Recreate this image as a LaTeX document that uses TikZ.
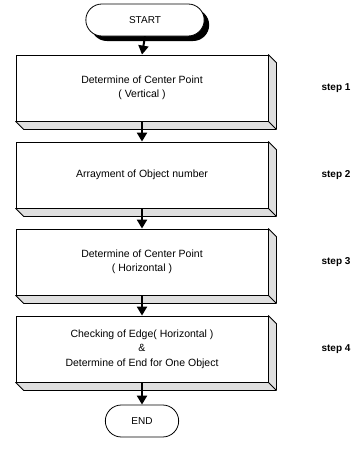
\documentclass[tikz,border=0pt]{standalone}
\usepackage{fontspec}
\setmainfont{Liberation Sans}
\usetikzlibrary{calc,shapes.misc,shadows,arrows.meta}
\tikzstyle{connector} = [line width=2pt,-{Triangle[width=10pt,length=9pt]}]
\tikzstyle{terminal} = [rounded rectangle, draw, line width=0.8pt, fill=white, minimum height=32pt, font=\fontsize{10}{12}\selectfont]
\tikzstyle{stepbox} = [rectangle, draw, line width=0.8pt, fill=white, minimum width=252pt, minimum height=66pt, align=center, font=\fontsize{10.5}{14.5}\selectfont]
\tikzstyle{bevel} = [draw, line width=0.8pt, fill=gray!25, line join=round]
\tikzstyle{steplabel} = [font=\bfseries\fontsize{10}{12}\selectfont]

\begin{document}
\begin{tikzpicture}[x=1pt,y=1pt,node distance=87pt]
        \useasboundingbox (0,0) rectangle (361,-455);
        \node (start) [terminal, minimum width=125pt, drop shadow={shadow xshift=5pt,shadow yshift=-5pt,opacity=1,fill=black}] at (145,-20) {START};
        \node (step-1) [stepbox, below of=start, xshift=-3pt, yshift=19pt] {Determine of Center Point\\( Vertical )};
        \node (step-2) [stepbox, below of=step-1] {Arrayment of Object number};
        \node (step-3) [stepbox, below of=step-2] {Determine of Center Point\\( Horizontal )};
        \node (step-4) [stepbox, below of=step-3] {Checking of Edge( Horizontal )\\\&\\Determine of End for One Object};
        \node (end) [terminal, minimum width=80pt, below of=step-4, yshift=15pt] {END};
        \node (label-1) [steplabel, right of=step-1, xshift=107pt] {step 1};
        \node (label-2) [steplabel, right of=step-2, xshift=107pt] {step 2};
        \node (label-3) [steplabel, right of=step-3, xshift=107pt] {step 3};
        \node (label-4) [steplabel, right of=step-4, xshift=107pt] {step 4};
        \draw [bevel] (step-1.south west) -- (step-1.south east) -- (step-1.north east) -- ++(8,-8) -- ($(step-1.south east)+(8,-8)$) -- ($(step-1.south west)+(8,-8)$) -- cycle (step-1.south east) -- ++(8,-8);
        \draw [bevel] (step-2.south west) -- (step-2.south east) -- (step-2.north east) -- ++(8,-8) -- ($(step-2.south east)+(8,-8)$) -- ($(step-2.south west)+(8,-8)$) -- cycle (step-2.south east) -- ++(8,-8);
        \draw [bevel] (step-3.south west) -- (step-3.south east) -- (step-3.north east) -- ++(8,-8) -- ($(step-3.south east)+(8,-8)$) -- ($(step-3.south west)+(8,-8)$) -- cycle (step-3.south east) -- ++(8,-8);
        \draw [bevel] (step-4.south west) -- (step-4.south east) -- (step-4.north east) -- ++(8,-8) -- ($(step-4.south east)+(8,-8)$) -- ($(step-4.south west)+(8,-8)$) -- cycle (step-4.south east) -- ++(8,-8);
        \draw [connector] (start.south) -- (step-1.north);
        \draw [connector] (step-1.south) -- (step-2.north);
        \draw [connector] (step-2.south) -- (step-3.north);
        \draw [connector] (step-3.south) -- (step-4.north);
        \draw [connector] (step-4.south) -- (end.north);
    \end{tikzpicture}
\end{document}
